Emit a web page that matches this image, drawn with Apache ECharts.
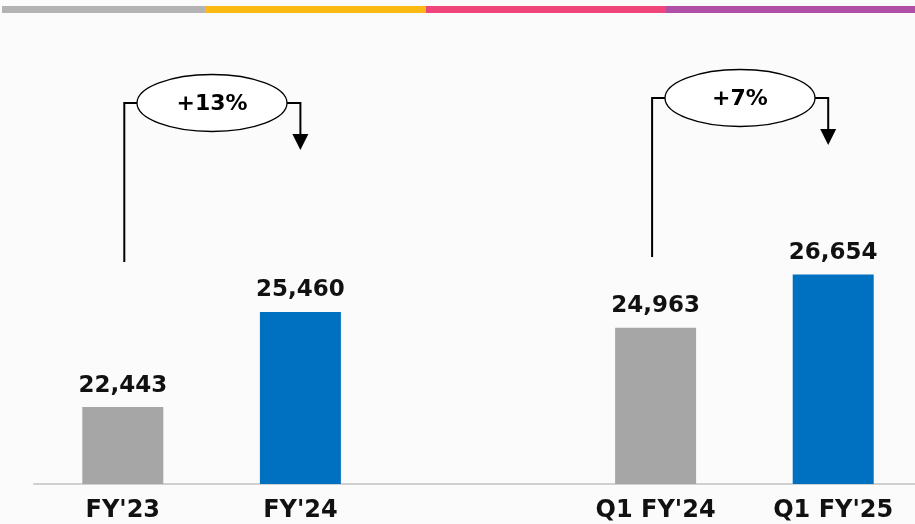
<!DOCTYPE html>
<html>
<head>
<meta charset="utf-8">
<script src="https://cdn.jsdelivr.net/npm/echarts@6/dist/echarts.min.js"></script>
<style>
html,body{margin:0;padding:0;background:#fbfbfb;overflow:hidden;width:915px;height:524px;}
#c{width:930px;height:524px;}
</style>
</head>
<body>
<div id="c"></div>
<script>
var categories = ["FY'23", "FY'24", "", "Q1 FY'24", "Q1 FY'25"];
var values = [22443, 25460, null, 24963, 26654];
var valueLabels = ["22,443", "25,460", "", "24,963", "26,654"];
var growthLabels = ["+13%", "+7%"];

var GRAY = '#a6a6a6', BLUE = '#0070c0';
var chart = echarts.init(document.getElementById('c'), null, {renderer: 'canvas'});
var FONT = '"DejaVu Sans", "Liberation Sans", Arial, sans-serif';

chart.setOption({
  backgroundColor: '#fbfbfb',
  animation: false,
  grid: {left: 34, width: 888, top: 43, bottom: 40},
  xAxis: {
    type: 'category',
    data: categories,
    axisLine: {lineStyle: {color: '#d0d0d0', width: 2}},
    axisTick: {show: false},
    axisLabel: {
      interval: 0, margin: 15,
      fontFamily: FONT, fontWeight: 'bold', fontSize: 24, color: '#111'
    }
  },
  yAxis: {type: 'value', min: 20000, max: 34000, show: false, splitLine: {show: false}},
  series: [{
    type: 'bar',
    barWidth: 81,
    data: values,
    itemStyle: {
      color: function (p) { return (p.dataIndex % 3 === 0) ? GRAY : BLUE; }
    },
    label: {
      show: true, position: 'top', distance: 10,
      fontFamily: FONT, fontWeight: 'bold', fontSize: 23, color: '#111',
      formatter: function (p) { return valueLabels[p.dataIndex]; }
    }
  }]
});

function cx(i) { return chart.convertToPixel({xAxisIndex: 0}, i); }

function annotation(xStart, xArrow, ellCx, cy, lineBottom, arrowTip, text) {
  var els = [];
  var lw = 2;
  els.push({type: 'ellipse', shape: {cx: ellCx, cy: cy, rx: 75, ry: 28.5},
    style: {fill: '#fff', stroke: '#000', lineWidth: 1.3}, z: 10});
  els.push({type: 'text', x: ellCx, y: cy + 1, z: 11,
    style: {text: text, fill: '#000', font: 'bold 22px ' + FONT, align: 'center', verticalAlign: 'middle'}});
  els.push({type: 'polyline', shape: {points: [[ellCx - 75, cy], [xStart, cy], [xStart, lineBottom]]},
    style: {stroke: '#000', lineWidth: lw, fill: null}, z: 9});
  els.push({type: 'polyline', shape: {points: [[ellCx + 75, cy], [xArrow, cy], [xArrow, arrowTip - 14]]},
    style: {stroke: '#000', lineWidth: lw, fill: null}, z: 9});
  els.push({type: 'polygon', shape: {points: [[xArrow - 8, arrowTip - 16], [xArrow + 8, arrowTip - 16], [xArrow, arrowTip]]},
    style: {fill: '#000'}, z: 9});
  return els;
}

var g = [];
var stripe = [[2, 205, '#b3b3b3'], [205, 426, '#fdb913'], [426, 666, '#f0457a'], [666, 930, '#b04fa6']];
stripe.forEach(function (s) {
  g.push({type: 'rect', shape: {x: s[0], y: 6, width: s[1] - s[0], height: 7}, style: {fill: s[2]}});
});
var c0 = cx(0), c1 = cx(1), c3 = cx(3), c4 = cx(4);
g = g.concat(annotation(c0 + 1.5, c1, 212, 103, 262, 150, growthLabels[0]));
g = g.concat(annotation(c3 - 3.5, c4 - 5, 740, 98, 257, 145, growthLabels[1]));

chart.setOption({graphic: g});
</script>
</body>
</html>
